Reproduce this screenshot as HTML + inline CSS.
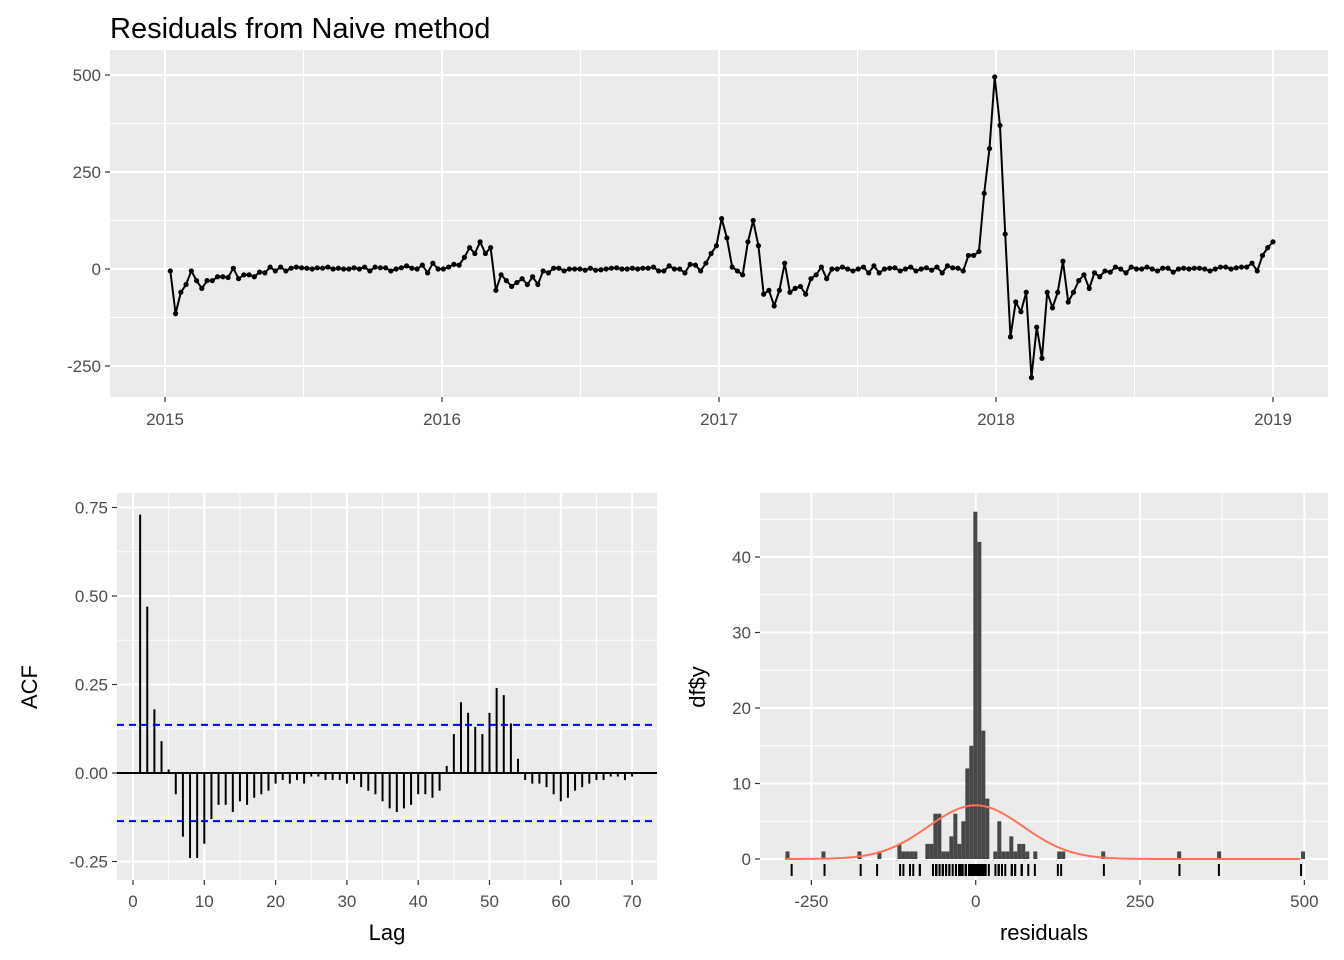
<!DOCTYPE html>
<html><head><meta charset="utf-8"><style>
body{margin:0;background:#fff;}
svg{display:block;font-family:"Liberation Sans",Arial,sans-serif;}
</style></head><body>
<svg id="c" width="1344" height="960"></svg>
<script>
const resid = [-5,-115,-60,-40,-5,-30,-50,-30,-30,-20,-20,-22,2,-25,-15,-15,-20,-8,-10,5,-5,5,-5,2,5,3,2,0,3,2,5,0,2,0,0,3,0,5,-5,5,3,3,-5,0,3,8,2,0,10,-10,15,0,
0,5,12,10,30,55,40,70,40,55,-55,-15,-30,-45,-35,-25,-40,-20,-40,-5,-10,2,2,-5,0,0,0,-3,2,-3,-2,0,2,3,0,0,2,0,2,2,5,-5,-5,8,0,0,-10,12,10,-5,15,40,60,130,
80,5,-5,-15,70,125,60,-65,-55,-95,-55,15,-60,-50,-45,-65,-25,-15,5,-25,0,0,5,0,-5,0,5,-10,8,-10,0,2,3,-5,0,5,-5,0,3,-3,5,-10,8,3,2,-5,35,35,45,195,310,495,
370,90,-175,-85,-110,-60,-280,-150,-230,-60,-100,-60,20,-85,-60,-30,-15,-50,-10,-20,-5,-8,5,0,-10,5,0,0,5,0,-5,2,2,-8,0,2,0,2,2,0,-5,0,5,5,0,3,5,5,15,-5,35,55,70];
const acfVals = [0.73,0.47,0.18,0.09,0.01,-0.06,-0.18,-0.24,-0.24,-0.20,-0.13,-0.09,-0.09,-0.11,-0.08,-0.09,-0.07,-0.06,-0.05,-0.03,-0.02,-0.03,-0.02,-0.03,-0.01,-0.01,-0.02,-0.02,-0.02,-0.03,-0.02,-0.04,-0.05,-0.06,-0.08,-0.10,-0.11,-0.10,-0.09,-0.06,-0.06,-0.07,-0.05,0.02,0.11,0.20,0.17,0.13,0.11,0.17,0.24,0.22,0.14,0.04,-0.02,-0.03,-0.03,-0.04,-0.06,-0.08,-0.07,-0.05,-0.04,-0.03,-0.02,-0.02,-0.01,-0.01,-0.02,-0.01];
const ciLevel = 0.136;
const yearTicks = [2015,2016,2017,2018,2019];
const residTicks = [-250,0,250,500];
const acfTicks = [-0.25,0,0.25,0.5,0.75];
const acfTickLabels = ["-0.25","0.00","0.25","0.50","0.75"];
const lagTicks = [0,10,20,30,40,50,60,70];
const histXTicks = [-250,0,250,500];
const histYTicks = [0,10,20,30,40];
const binWidth = 6.08;
const binOrigin = -3.6;
// histogram bin indices (left edge = binOrigin + k*binWidth) and counts
const binIdx =   [-47,-38,-29,-24,-19,-18,-17,-16,-15,-12,-11,-10,-9,-8,-7,-6,-5,-4,-3,-2,-1,0,1,2,3,5,6,7,8,9,10,11,12,13,15,21,22,32,51,61,82];
const binCount = [1,1,1,1,2,1,1,1,1,2,2,6,6,1,1,3,6,2,5,12,15,46,42,17,8,1,5,1,1,3,1,2,2,1,1,1,1,1,1,1,1];
const curveMean = 0;
const curveSd = 72;

const svg=document.getElementById('c');
const NS='http://www.w3.org/2000/svg';
function mk(tag,attrs,parent,name,inter){const e=document.createElementNS(NS,tag);for(const k in attrs)e.setAttribute(k,attrs[k]);


(parent||svg).appendChild(e);return e;}
function txt(x,y,s,attrs,name){const t=mk('text',Object.assign({x:x,y:y},attrs),svg,name,false);t.textContent=s;return t;}
function lin(x1,y1,x2,y2,stroke,w,name,extra){return mk('line',Object.assign({x1,y1,x2,y2,stroke,'stroke-width':w},extra||{}),svg,name,false);}
function panel(x0,y0,x1,y1,name){mk('rect',{x:x0,y:y0,width:x1-x0,height:y1-y0,fill:'#ebebeb'},svg,name,false);}
const tickStyle={'font-size':17,fill:'#4d4d4d'};

// ---------- Top panel ----------
const T={x0:110,x1:1328,y0:50,y1:397};
const tx=v=>165+(v-2015)*277;
const ty=v=>269-v*(97/250);
panel(T.x0,T.y0,T.x1,T.y1,'time-series-panel');
for(let y=2014.5;y<=2019.5;y+=1){const X=tx(y);if(X>T.x0&&X<T.x1)lin(X,T.y0,X,T.y1,'#fff',1,'minor-gridline-x');}
for(let v=-375;v<=625;v+=250){const Y=ty(v);if(Y>T.y0&&Y<T.y1)lin(T.x0,Y,T.x1,Y,'#fff',1,'minor-gridline-y');}
yearTicks.forEach(v=>{const X=tx(v);lin(X,T.y0,X,T.y1,'#fff',2,'major-gridline-x');lin(X,T.y1,X,T.y1+5,'#333',1.2,'x-tick');txt(X,T.y1+28,String(v),Object.assign({'text-anchor':'middle'},tickStyle),'x-tick-label');});
residTicks.forEach(v=>{const Y=ty(v);lin(T.x0,Y,T.x1,Y,'#fff',2,'major-gridline-y');lin(T.x0-5,Y,T.x0,Y,'#333',1.2,'y-tick');txt(T.x0-9,Y+6,String(v),Object.assign({'text-anchor':'end'},tickStyle),'y-tick-label');});
const n=resid.length;
const tStart=2015+1/52, tEnd=2019.0;
const tIdx=i=>tStart+i*(tEnd-tStart)/(n-1);
let d='';resid.forEach((v,i)=>{d+=(i?'L':'M')+tx(tIdx(i)).toFixed(2)+','+ty(v).toFixed(2);});
mk('path',{d:d,fill:'none',stroke:'#000','stroke-width':2},svg,'residual-line',false);
resid.forEach((v,i)=>{mk('circle',{cx:tx(tIdx(i)),cy:ty(v),r:2.6,fill:'#000'},svg,'residual-point',false);});
txt(110,38,'Residuals from Naive method',{'font-size':29,fill:'#000'},'chart-title');

// ---------- ACF panel ----------
const A={x0:117,x1:657,y0:493,y1:880};
const ax=v=>133+v*7.13;
const ay=v=>773-v*354;
panel(A.x0,A.y0,A.x1,A.y1,'acf-panel');
for(let v=5;v<=75;v+=10){const X=ax(v);if(X<A.x1)lin(X,A.y0,X,A.y1,'#fff',1,'minor-gridline-x');}
for(let v=-0.125;v<=0.75;v+=0.25){lin(A.x0,ay(v),A.x1,ay(v),'#fff',1,'minor-gridline-y');}
lagTicks.forEach(v=>{const X=ax(v);lin(X,A.y0,X,A.y1,'#fff',2,'major-gridline-x');lin(X,A.y1,X,A.y1+5,'#333',1.2,'x-tick');txt(X,A.y1+27,String(v),Object.assign({'text-anchor':'middle'},tickStyle),'x-tick-label');});
acfTicks.forEach((v,i)=>{const Y=ay(v);lin(A.x0,Y,A.x1,Y,'#fff',2,'major-gridline-y');lin(A.x0-5,Y,A.x0,Y,'#333',1.2,'y-tick');txt(A.x0-9,Y+6,acfTickLabels[i],Object.assign({'text-anchor':'end'},tickStyle),'y-tick-label');});
acfVals.forEach((v,i)=>{const X=ax(i+1);lin(X,ay(0),X,ay(v),'#000',2,'acf-bar');});
lin(A.x0,ay(0),A.x1,ay(0),'#000',2,'acf-zero-line');
lin(A.x0,ay(ciLevel),A.x1,ay(ciLevel),'#0000ff',2,'upper-confidence-line',{'stroke-dasharray':'7,5'});
lin(A.x0,ay(-ciLevel),A.x1,ay(-ciLevel),'#0000ff',2,'lower-confidence-line',{'stroke-dasharray':'7,5'});
txt(387,940,'Lag',{'font-size':22,'text-anchor':'middle',fill:'#000'},'acf-x-axis-title');
txt(37,687,'ACF',{'font-size':22,'text-anchor':'middle',fill:'#000',transform:'rotate(-90 37 687)'},'acf-y-axis-title');

// ---------- Histogram panel ----------
const H={x0:760,x1:1328,y0:493,y1:880};
const hx=v=>975.7+v*0.6573;
const hy=v=>859-v*7.55;
panel(H.x0,H.y0,H.x1,H.y1,'histogram-panel');
[-375,-125,125,375].forEach(v=>{const X=hx(v);if(X>H.x0&&X<H.x1)lin(X,H.y0,X,H.y1,'#fff',1,'minor-gridline-x');});
[5,15,25,35,45].forEach(v=>lin(H.x0,hy(v),H.x1,hy(v),'#fff',1,'minor-gridline-y'));
histXTicks.forEach(v=>{const X=hx(v);lin(X,H.y0,X,H.y1,'#fff',2,'major-gridline-x');lin(X,H.y1,X,H.y1+5,'#333',1.2,'x-tick');txt(X,H.y1+27,String(v),Object.assign({'text-anchor':'middle'},tickStyle),'x-tick-label');});
histYTicks.forEach(v=>{const Y=hy(v);lin(H.x0,Y,H.x1,Y,'#fff',2,'major-gridline-y');lin(H.x0-5,Y,H.x0,Y,'#333',1.2,'y-tick');txt(H.x0-9,Y+6,String(v),Object.assign({'text-anchor':'end'},tickStyle),'y-tick-label');});
binIdx.forEach((k,i)=>{const c=binCount[i];const xa=hx(binOrigin+k*binWidth),xb=hx(binOrigin+(k+1)*binWidth);
mk('rect',{x:xa,y:hy(c),width:xb-xa,height:hy(0)-hy(c),fill:'#474747'},svg,'histogram-bar',false);});
let dn='';for(let v=-290;v<=495;v+=2){const y=n*binWidth*Math.exp(-0.5*((v-curveMean)/curveSd)**2)/(curveSd*Math.sqrt(2*Math.PI));dn+=(v===-290?'M':'L')+hx(v).toFixed(2)+','+hy(y).toFixed(2);}
mk('path',{d:dn,fill:'none',stroke:'#ff7256','stroke-width':2},svg,'normal-density-curve',false);
resid.forEach(v=>lin(hx(v),864,hx(v),876,'#000',2,'rug-tick'));
txt(1044,940,'residuals',{'font-size':22,'text-anchor':'middle',fill:'#000'},'hist-x-axis-title');
txt(705,687,'df$y',{'font-size':22,'text-anchor':'middle',fill:'#000',transform:'rotate(-90 705 687)'},'hist-y-axis-title');
</script>
</body></html>
